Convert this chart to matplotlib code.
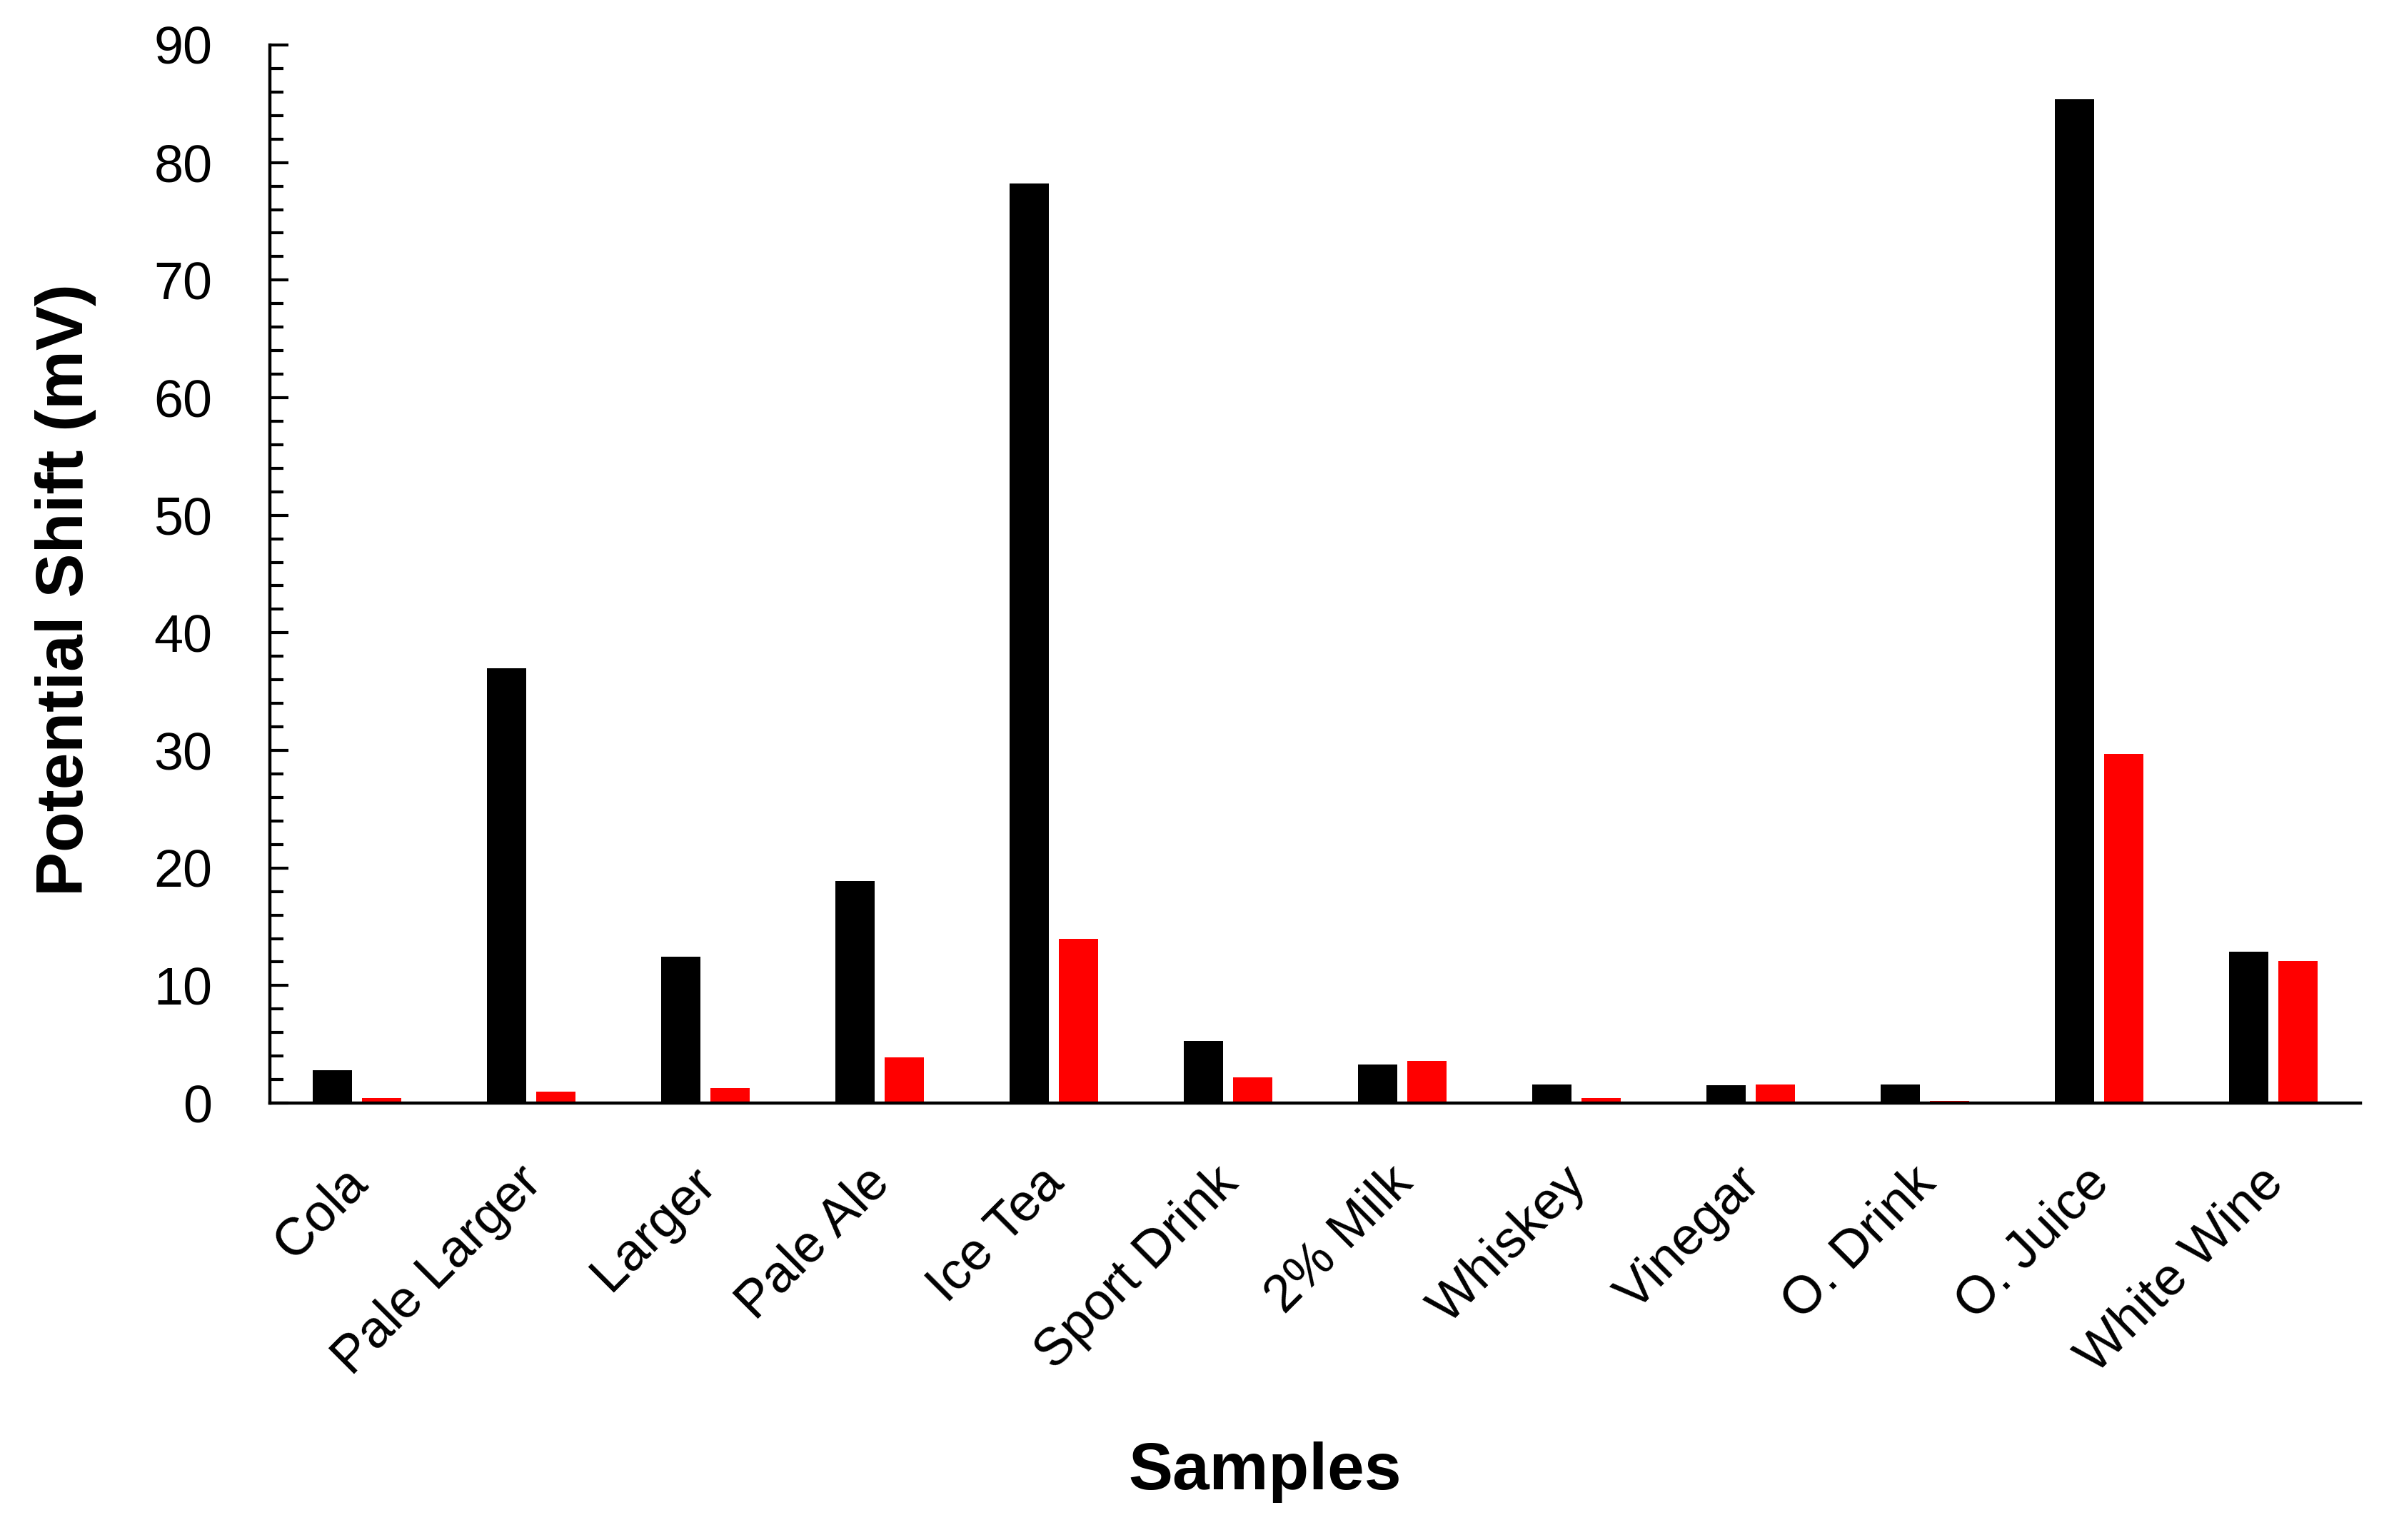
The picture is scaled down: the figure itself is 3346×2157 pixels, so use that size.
import numpy as np
import matplotlib
matplotlib.use("Agg")
import matplotlib.pyplot as plt
import matplotlib.transforms as mtransforms
from matplotlib.ticker import MultipleLocator

# valores
muestras = ["Cola", "Pale Larger", "Larger", "Pale Ale", "Ice Tea", "Sport Drink",
            "2% Milk", "Whiskey", "Vinegar", "O. Drink", "O. Juice", "White Wine"]
serie_negra = [2.8, 37.0, 12.45, 18.9, 78.2, 5.3, 3.3, 1.6, 1.5, 1.6, 85.4, 12.9]
serie_roja = [0.4, 1.0, 1.3, 3.9, 14.0, 2.2, 3.6, 0.45, 1.6, 0.2, 29.7, 12.1]

plt.rcParams['font.family'] = ['Liberation Sans', 'DejaVu Sans']

fig = plt.figure(figsize=(33.46, 21.57), dpi=100)
ax = fig.add_axes([0.113, 0.2837, 0.875, 0.6871])

x = np.arange(len(muestras))
ancho = 0.225
ax.bar(x - 0.142, serie_negra, width=ancho, color='#000000')
ax.bar(x + 0.142, serie_roja, width=ancho, color='#FF0000')

ax.set_xlim(-0.5, len(muestras) - 0.5)
ax.set_ylim(0, 90)
ax.yaxis.set_major_locator(MultipleLocator(10))
ax.yaxis.set_minor_locator(MultipleLocator(2))

for lado in ['top', 'right']:
    ax.spines[lado].set_visible(False)
for lado in ['left', 'bottom']:
    ax.spines[lado].set_linewidth(3.2)

ax.tick_params(axis='y', which='major', direction='in', length=19, width=3,
               labelsize=53, pad=58)
ax.tick_params(axis='y', which='minor', direction='in', length=14, width=3)
ax.tick_params(axis='x', length=0, labelsize=53, pad=55)

ax.set_xticks(x)
ax.set_xticklabels(muestras, rotation=45, ha='right', va='top', rotation_mode='anchor')
# mover un poco las etiquetas a la izquierda
desplazar = mtransforms.ScaledTranslation(-0.21, 0, fig.dpi_scale_trans)
for etiqueta in ax.get_xticklabels():
    etiqueta.set_transform(etiqueta.get_transform() + desplazar)

ax.set_ylabel("Potential Shift (mV)", fontsize=67, fontweight='bold')
ax.yaxis.set_label_coords(-0.083, 0.485)
ax.set_xlabel("Samples", fontsize=67, fontweight='bold')
ax.xaxis.set_label_coords(0.476, -0.32)

fig.savefig("out.png", dpi=100)
